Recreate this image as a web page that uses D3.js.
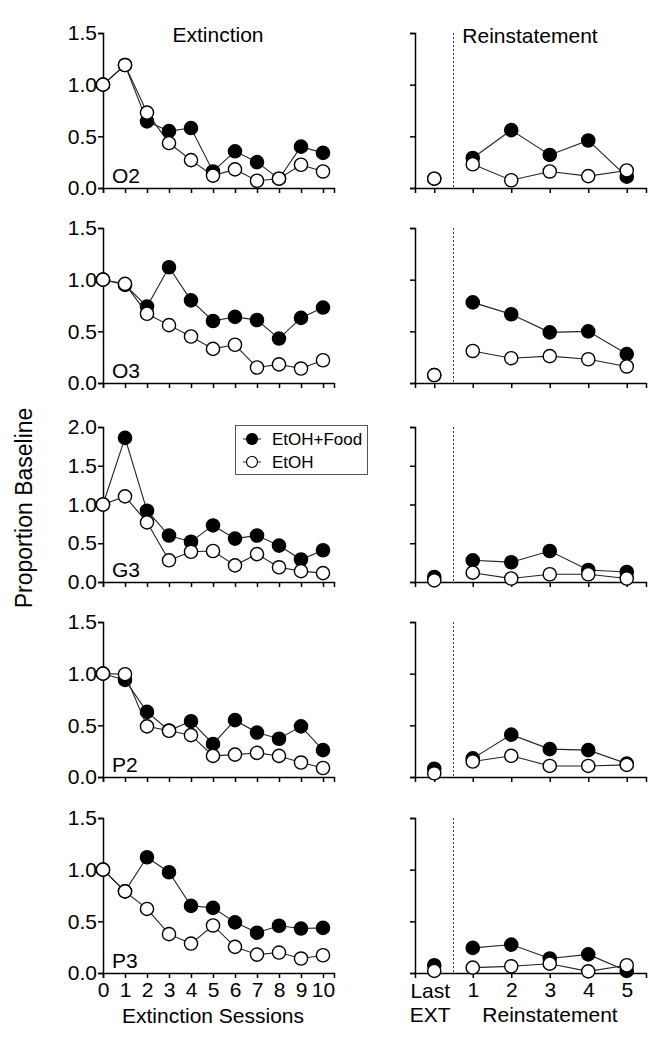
<!DOCTYPE html>
<html lang="en">
<head>
  <meta charset="UTF-8" />
  <title>Extinction and Reinstatement</title>
  <script src="https://d3js.org/d3.v7.min.js"></script>
  <style>
    body {
      margin: 0;
      background: #fff;
      font-family: "Liberation Sans", Arial, Helvetica, sans-serif;
    }
    svg text { fill: #000; }
    .axis path, .axis line { stroke: #000; stroke-width: 1.5px; }
    .axis text { font-size: 21px; font-family: "Liberation Sans", Arial, sans-serif; }
  </style>
</head>
<body>
  <div id="chart"></div>

  <script>
    // Data
    const subjects = ["O2", "O3", "G3", "P2", "P3"];
    const yMax = [1.5, 1.5, 2.0, 1.5, 1.5];
    const sessions = [0, 1, 2, 3, 4, 5, 6, 7, 8, 9, 10];
    const reinDays = [1, 2, 3, 4, 5];

    // extinction sessions 0-10, one row per subject
    const extFood = [
      [1.0, 1.19, 0.645, 0.55, 0.58, 0.16, 0.355, 0.25, 0.09, 0.40, 0.34],
      [1.0, 0.95, 0.74, 1.12, 0.80, 0.60, 0.64, 0.61, 0.43, 0.63, 0.73],
      [1.0, 1.86, 0.92, 0.60, 0.52, 0.73, 0.56, 0.60, 0.47, 0.29, 0.41],
      [1.0, 0.94, 0.63, 0.45, 0.54, 0.32, 0.55, 0.43, 0.37, 0.49, 0.26],
      [1.0, 0.79, 1.12, 0.975, 0.65, 0.63, 0.49, 0.39, 0.457, 0.43, 0.437]
    ];
    const extEtoh = [
      [1.0, 1.19, 0.73, 0.435, 0.27, 0.12, 0.18, 0.07, 0.09, 0.225, 0.16],
      [1.0, 0.96, 0.67, 0.56, 0.45, 0.33, 0.37, 0.15, 0.18, 0.14, 0.22],
      [1.0, 1.105, 0.77, 0.28, 0.39, 0.40, 0.215, 0.36, 0.19, 0.14, 0.115],
      [1.0, 0.995, 0.49, 0.447, 0.405, 0.204, 0.217, 0.233, 0.204, 0.14, 0.087],
      [1.0, 0.79, 0.62, 0.376, 0.285, 0.46, 0.253, 0.178, 0.198, 0.14, 0.172]
    ];

    // last extinction session
    const lastFood = [0.09, 0.077, 0.065, 0.08, 0.075];
    const lastEtoh = [0.09, 0.077, 0.02, 0.036, 0.02];

    // reinstatement sessions 1-5
    const reinFood = [
      [0.29, 0.56, 0.32, 0.46, 0.11],
      [0.78, 0.665, 0.49, 0.50, 0.28],
      [0.28, 0.255, 0.40, 0.155, 0.13],
      [0.18, 0.41, 0.27, 0.26, 0.13],
      [0.243, 0.275, 0.14, 0.18, 0.02]
    ];
    const reinEtoh = [
      [0.23, 0.075, 0.16, 0.115, 0.17],
      [0.31, 0.24, 0.26, 0.23, 0.16],
      [0.12, 0.045, 0.10, 0.10, 0.045],
      [0.15, 0.205, 0.107, 0.107, 0.117],
      [0.052, 0.065, 0.09, 0.016, 0.075]
    ];

    const W = 665, H = 1050;
    const panelTops = [33, 228, 427, 622, 818];
    const panelH = 155;
    const r = 6.6;

    const svg = d3.select("#chart")
      .append("svg")
      .attr("width", W)
      .attr("height", H);

    const xL = d3.scaleLinear().domain([0, 10.5]).range([103, 334]);
    const xR = d3.scaleLinear().domain([-0.5, 5.5]).range([415, 646]);

    const line = (x, y) => d3.line().x(d => x(d[0])).y(d => y(d[1]));

    function drawSeries(g, pts, x, y, filled, connect) {
      if (connect) {
        g.append("path")
          .datum(pts)
          .attr("d", line(x, y))
          .attr("fill", "none")
          .attr("stroke", "#222")
          .attr("stroke-width", 1.1);
      }
      g.selectAll(null)
        .data(pts)
        .join("circle")
        .attr("cx", d => x(d[0]))
        .attr("cy", d => y(d[1]))
        .attr("r", r)
        .attr("fill", filled ? "#000" : "#fff")
        .attr("stroke", "#000")
        .attr("stroke-width", 1.4);
    }

    subjects.forEach((s, i) => {
      const top = panelTops[i];
      const bottom = top + panelH;
      const y = d3.scaleLinear().domain([0, yMax[i]]).range([bottom, top]);
      const yTicks = d3.range(0, yMax[i] + 0.01, 0.5);
      const last = i === subjects.length - 1;

      // ---- Extinction panel
      const gl = svg.append("g");
      gl.append("g")
        .attr("class", "axis")
        .attr("transform", `translate(0,${bottom})`)
        .call(d3.axisBottom(xL).tickValues(sessions).tickSizeOuter(0)
          .tickSize(5).tickPadding(4)
          .tickFormat(last ? d3.format("d") : () => ""));
      gl.append("g")
        .attr("class", "axis")
        .attr("transform", `translate(${xL(0)},0)`)
        .call(d3.axisLeft(y).tickValues(yTicks).tickSizeOuter(0)
          .tickSize(5).tickPadding(1).tickFormat(d3.format(".1f")));

      drawSeries(gl, sessions.map((d, k) => [d, extFood[i][k]]), xL, y, true, true);
      drawSeries(gl, sessions.map((d, k) => [d, extEtoh[i][k]]), xL, y, false, true);

      gl.append("text")
        .attr("x", 112)
        .attr("y", bottom - 5)
        .style("font-size", "21px")
        .text(s);

      // ---- Reinstatement panel
      const gr = svg.append("g");
      gr.append("g")
        .attr("class", "axis")
        .attr("transform", `translate(0,${bottom})`)
        .call(d3.axisBottom(xR).tickValues([0, 1, 2, 3, 4, 5]).tickSizeOuter(0)
          .tickSize(5).tickPadding(4)
          .tickFormat(d => (last && d > 0) ? d : ""));
      gr.append("g")
        .attr("class", "axis")
        .attr("transform", `translate(${xR(-0.5)},0)`)
        .call(d3.axisLeft(y).tickValues(yTicks).tickSizeOuter(0)
          .tickSize(5).tickFormat(() => ""));

      gr.append("line")
        .attr("x1", xR(0.5)).attr("x2", xR(0.5))
        .attr("y1", top).attr("y2", bottom)
        .attr("stroke", "#333")
        .attr("stroke-width", 1)
        .attr("stroke-dasharray", "2,2");

      drawSeries(gr, [[0, lastFood[i]]], xR, y, true, false);
      drawSeries(gr, [[0, lastEtoh[i]]], xR, y, false, false);
      drawSeries(gr, reinDays.map((d, k) => [d, reinFood[i][k]]), xR, y, true, true);
      drawSeries(gr, reinDays.map((d, k) => [d, reinEtoh[i][k]]), xR, y, false, true);
    });

    // Titles
    svg.append("text")
      .attr("x", 218).attr("y", 42)
      .attr("text-anchor", "middle")
      .style("font-size", "21px")
      .text("Extinction");
    svg.append("text")
      .attr("x", 530).attr("y", 43)
      .attr("text-anchor", "middle")
      .style("font-size", "21px")
      .text("Reinstatement");

    // Axis labels
    svg.append("text")
      .attr("transform", "translate(32,508) rotate(-90)")
      .attr("text-anchor", "middle")
      .style("font-size", "23px")
      .text("Proportion Baseline");

    svg.append("text")
      .attr("x", 213).attr("y", 1023)
      .attr("text-anchor", "middle")
      .style("font-size", "21px")
      .text("Extinction Sessions");

    svg.append("text")
      .attr("x", xR(0) - 4).attr("y", 998)
      .attr("text-anchor", "middle")
      .style("font-size", "21px")
      .text("Last");
    svg.append("text")
      .attr("x", xR(0) - 4).attr("y", 1022)
      .attr("text-anchor", "middle")
      .style("font-size", "21px")
      .text("EXT");
    svg.append("text")
      .attr("x", 550).attr("y", 1022)
      .attr("text-anchor", "middle")
      .style("font-size", "21px")
      .text("Reinstatement");

    // Legend
    const legend = svg.append("g");
    legend.append("rect")
      .attr("x", 235.5).attr("y", 425.5)
      .attr("width", 132).attr("height", 49)
      .attr("fill", "#fff")
      .attr("stroke", "#555")
      .attr("stroke-width", 1);

    [["EtOH+Food", true], ["EtOH", false]].forEach(([label, filled], k) => {
      const ly = 439 + k * 23;
      legend.append("line")
        .attr("x1", 243).attr("x2", 261)
        .attr("y1", ly).attr("y2", ly)
        .attr("stroke", "#222");
      legend.append("circle")
        .attr("cx", 252).attr("cy", ly).attr("r", 5.5)
        .attr("fill", filled ? "#000" : "#fff")
        .attr("stroke", "#000")
        .attr("stroke-width", 1.2);
      legend.append("text")
        .attr("x", 272).attr("y", ly + 6)
        .style("font-size", "17px")
        .text(label);
    });
  </script>
</body>
</html>
